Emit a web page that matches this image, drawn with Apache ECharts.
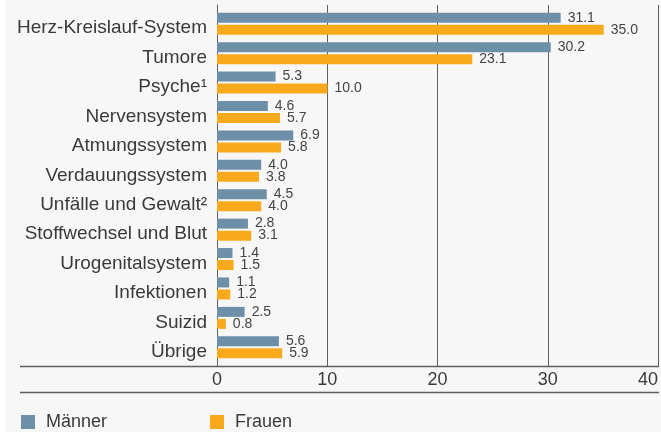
<!DOCTYPE html>
<html>
<head>
<meta charset="utf-8">
<script src="https://cdn.jsdelivr.net/npm/echarts@6/dist/echarts.min.js"></script>
<style>
html,body{margin:0;padding:0;background:#ffffff;}
#c{position:absolute;left:5px;top:0;width:656px;height:432px;background:#f7f7f7;}
</style>
</head>
<body>
<div id="c"></div>
<script>
const categories = ['Herz-Kreislauf-System','Tumore','Psyche¹','Nervensystem','Atmungssystem','Verdauungssystem','Unfälle und Gewalt²','Stoffwechsel und Blut','Urogenitalsystem','Infektionen','Suizid','Übrige'];
const maenner = [31.1, 30.2, 5.3, 4.6, 6.9, 4.0, 4.5, 2.8, 1.4, 1.1, 2.5, 5.6];
const frauen  = [35.0, 23.1, 10.0, 5.7, 5.8, 3.8, 4.0, 3.1, 1.5, 1.2, 0.8, 5.9];
const xTicks = [0, 10, 20, 30, 40];

const FONT = "'Liberation Sans', Arial, sans-serif";
const TXT = '#3a3a3a';
const LINE = '#5f5f5f';
const chart = echarts.init(document.getElementById('c'));
const W = 656, H = 432;
const gLeft = 212, gRight = 2;

chart.setOption({
  backgroundColor: '#f7f7f7',
  textStyle: {fontFamily: FONT},
  animation: false,
  legend: {
    left: 11, top: 408,
    itemWidth: 14, itemHeight: 14, itemGap: 103,
    icon: 'rect',
    data: ['Männer', 'Frauen'],
    textStyle: {fontSize: 18, color: TXT, fontFamily: FONT, padding: [0, 0, 0, 6]}
  },
  grid: [
    {left: gLeft, right: gRight, top: 9, bottom: 70, containLabel: false},
    {left: gLeft, right: gRight, top: 5, bottom: 66, containLabel: false}
  ],
  xAxis: [
    {gridIndex: 0, type: 'value', min: xTicks[0], max: xTicks[xTicks.length-1], interval: 10,
     axisLine: {show: false}, axisTick: {show: false}, axisLabel: {show: false}, splitLine: {show: false}},
    {gridIndex: 1, type: 'value', min: xTicks[0], max: xTicks[xTicks.length-1], interval: 10,
     axisLine: {show: false}, axisTick: {show: false},
     axisLabel: {fontSize: 18, color: TXT, margin: 5, fontFamily: FONT, alignMaxLabel: 'right'},
     splitLine: {show: true, lineStyle: {color: LINE, width: 1}}}
  ],
  yAxis: [
    {gridIndex: 0, type: 'category', data: categories, inverse: true,
     axisLine: {show: false}, axisTick: {show: false},
     axisLabel: {fontSize: 19, color: TXT, margin: 10, fontFamily: FONT,
       formatter: v => '{a|' + v + '}',
       rich: {a: {fontSize: 19, color: TXT, fontFamily: FONT, padding: [9, 0, 0, 0]}}}},
    {gridIndex: 1, type: 'category', data: categories, inverse: true,
     axisLine: {show: true, lineStyle: {color: LINE, width: 1}}, axisTick: {show: false},
     axisLabel: {show: false}}
  ],
  graphic: [
    {type: 'line', shape: {x1: 15, y1: H - 66 + 0.5, x2: W - gRight, y2: H - 66 + 0.5}, style: {stroke: LINE, lineWidth: 1.5}, z: 10},
    {type: 'line', shape: {x1: 15, y1: H - 40 + 0.5, x2: W - gRight, y2: H - 40 + 0.5}, style: {stroke: LINE, lineWidth: 1.5}, z: 10}
  ],
  series: [
    {name: 'Männer', type: 'bar', xAxisIndex: 0, yAxisIndex: 0, data: maenner,
     barWidth: 10, barGap: '20%', itemStyle: {color: '#6e8fa8'},
     label: {show: true, position: 'right', distance: 7, fontSize: 14, color: '#444', fontFamily: FONT,
             formatter: p => p.value.toFixed(1)}},
    {name: 'Frauen', type: 'bar', xAxisIndex: 0, yAxisIndex: 0, data: frauen,
     barWidth: 10, barGap: '20%', itemStyle: {color: '#f9aa1c'},
     label: {show: true, position: 'right', distance: 7, fontSize: 14, color: '#444', fontFamily: FONT,
             formatter: p => p.value.toFixed(1)}}
  ]
});
</script>
</body>
</html>
